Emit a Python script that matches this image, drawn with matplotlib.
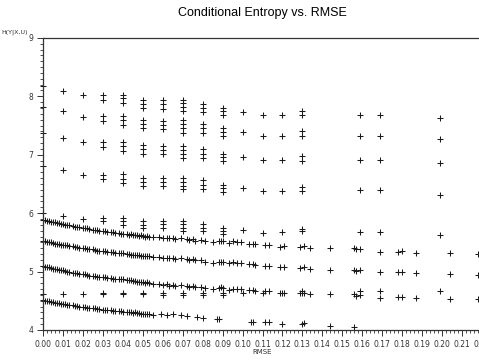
import numpy as np
import matplotlib
matplotlib.use('Agg')
import matplotlib.pyplot as plt
from matplotlib.ticker import MultipleLocator, FormatStrFormatter

# dense curves (4 curves share the same rmse values, the bottom one stops earlier)
dense_x = [0.000, 0.001, 0.002, 0.003, 0.004, 0.005, 0.006, 0.007, 0.008, 0.009,
           0.010, 0.011, 0.012, 0.013, 0.015, 0.016, 0.017, 0.018, 0.020, 0.021,
           0.022, 0.023, 0.025, 0.026, 0.027, 0.028, 0.030, 0.031, 0.032, 0.034,
           0.035, 0.036, 0.038, 0.039, 0.040, 0.042, 0.043, 0.044, 0.045, 0.046,
           0.047, 0.048, 0.049, 0.050, 0.051, 0.052, 0.053, 0.055, 0.058, 0.060,
           0.062, 0.063, 0.065, 0.066, 0.069, 0.072, 0.073, 0.075, 0.076, 0.079,
           0.081, 0.085, 0.088, 0.089, 0.090, 0.093, 0.095, 0.097, 0.099, 0.103,
           0.105, 0.106, 0.111, 0.113, 0.119, 0.121, 0.129, 0.131, 0.134, 0.144,
           0.156, 0.157, 0.159, 0.169, 0.178, 0.180, 0.187, 0.204, 0.218]

curve_a = [5.89, 5.88, 5.87, 5.87, 5.85, 5.85, 5.84, 5.83, 5.83, 5.82,
           5.81, 5.80, 5.80, 5.79, 5.78, 5.77, 5.76, 5.76, 5.75, 5.74,
           5.74, 5.73, 5.72, 5.71, 5.71, 5.70, 5.69, 5.69, 5.68, 5.67,
           5.67, 5.66, 5.66, 5.65, 5.65, 5.64, 5.63, 5.64, 5.62, 5.63,
           5.62, 5.61, 5.62, 5.61, 5.60, 5.61, 5.60, 5.59, 5.60, 5.57,
           5.58, 5.57, 5.58, 5.56, 5.58, 5.55, 5.54, 5.56, 5.53, 5.54,
           5.52, 5.50, 5.52, 5.53, 5.52, 5.49, 5.52, 5.50, 5.51, 5.48,
           5.48, 5.47, 5.45, 5.45, 5.42, 5.43, 5.42, 5.43, 5.41, 5.40,
           5.40, 5.38, 5.39, 5.34, 5.34, 5.35, 5.32, 5.31, 5.30]

curve_b = [5.52, 5.52, 5.51, 5.50, 5.50, 5.49, 5.48, 5.48, 5.47, 5.46,
           5.46, 5.45, 5.45, 5.44, 5.43, 5.42, 5.42, 5.41, 5.40, 5.40,
           5.39, 5.38, 5.38, 5.37, 5.36, 5.36, 5.35, 5.35, 5.34, 5.33,
           5.33, 5.32, 5.32, 5.31, 5.31, 5.30, 5.30, 5.29, 5.29, 5.28,
           5.28, 5.28, 5.27, 5.27, 5.26, 5.27, 5.26, 5.25, 5.25, 5.23,
           5.24, 5.23, 5.24, 5.22, 5.23, 5.21, 5.20, 5.21, 5.19, 5.19,
           5.17, 5.15, 5.17, 5.17, 5.17, 5.14, 5.16, 5.15, 5.15, 5.13,
           5.13, 5.12, 5.10, 5.10, 5.07, 5.08, 5.06, 5.07, 5.05, 5.03,
           5.03, 5.01, 5.02, 4.99, 4.99, 5.00, 4.97, 4.95, 4.94]

curve_c = [5.09, 5.08, 5.08, 5.07, 5.06, 5.05, 5.05, 5.04, 5.03, 5.03,
           5.02, 5.01, 5.00, 5.00, 4.98, 4.98, 4.97, 4.96, 4.95, 4.95,
           4.94, 4.93, 4.93, 4.92, 4.91, 4.91, 4.90, 4.90, 4.89, 4.89,
           4.88, 4.88, 4.87, 4.87, 4.87, 4.86, 4.85, 4.85, 4.84, 4.84,
           4.83, 4.83, 4.82, 4.82, 4.81, 4.82, 4.80, 4.79, 4.79, 4.77,
           4.78, 4.76, 4.77, 4.76, 4.77, 4.75, 4.74, 4.75, 4.73, 4.74,
           4.72, 4.70, 4.72, 4.73, 4.72, 4.69, 4.71, 4.70, 4.71, 4.68,
           4.68, 4.67, 4.66, 4.66, 4.63, 4.64, 4.63, 4.64, 4.62, 4.61,
           4.61, 4.59, 4.60, 4.55, 4.56, 4.57, 4.54, 4.53, 4.53]

curve_d_x = [0.000, 0.001, 0.002, 0.003, 0.004, 0.005, 0.006, 0.007, 0.008, 0.009,
             0.010, 0.011, 0.012, 0.013, 0.015, 0.016, 0.017, 0.018, 0.020, 0.021,
             0.022, 0.023, 0.025, 0.026, 0.027, 0.028, 0.030, 0.031, 0.032, 0.034,
             0.035, 0.036, 0.038, 0.039, 0.040, 0.042, 0.043, 0.044, 0.045, 0.046,
             0.047, 0.048, 0.049, 0.050, 0.051, 0.052, 0.053, 0.055, 0.059, 0.062,
             0.065, 0.069, 0.072, 0.077, 0.080, 0.087, 0.088, 0.104, 0.105, 0.111,
             0.113, 0.120, 0.130, 0.131, 0.144, 0.156]
curve_d = [4.51, 4.50, 4.50, 4.49, 4.48, 4.48, 4.47, 4.46, 4.46, 4.45,
           4.45, 4.44, 4.43, 4.43, 4.42, 4.41, 4.41, 4.40, 4.39, 4.39,
           4.38, 4.38, 4.37, 4.37, 4.36, 4.36, 4.35, 4.35, 4.34, 4.34,
           4.33, 4.33, 4.32, 4.32, 4.31, 4.31, 4.30, 4.30, 4.29, 4.30,
           4.29, 4.29, 4.28, 4.28, 4.27, 4.28, 4.27, 4.26, 4.27, 4.26,
           4.27, 4.25, 4.24, 4.23, 4.21, 4.19, 4.19, 4.14, 4.14, 4.13,
           4.13, 4.11, 4.11, 4.12, 4.07, 4.05]

# stacked points at the coarse rmse values
cols_x = [0.000, 0.010, 0.020, 0.030, 0.040, 0.050, 0.060, 0.070, 0.080,
          0.090, 0.100, 0.110, 0.120, 0.130, 0.159, 0.169, 0.199]
cols_y = [
    [8.18, 7.82, 7.37, 6.81, 6.00, 4.62],
    [8.09, 7.74, 7.29, 6.73, 5.95, 4.62],
    [8.02, 7.65, 7.21, 6.65, 5.90, 4.62],
    [8.03, 7.94, 7.66, 7.58, 7.22, 7.14, 6.66, 6.59, 5.91, 5.86, 4.63, 4.61],
    [8.03, 7.97, 7.88, 7.66, 7.59, 7.51, 7.22, 7.15, 7.07, 6.67, 6.59, 6.52,
     5.91, 5.86, 5.80, 4.63, 4.61],
    [7.94, 7.87, 7.80, 7.59, 7.52, 7.45, 7.17, 7.09, 7.01, 6.60, 6.53, 6.46,
     5.86, 5.80, 5.75, 4.63, 4.61],
    [7.93, 7.86, 7.79, 7.58, 7.51, 7.44, 7.15, 7.08, 7.01, 6.60, 6.53, 6.47,
     5.87, 5.81, 5.74, 4.63, 4.60],
    [7.94, 7.88, 7.81, 7.74, 7.59, 7.52, 7.45, 7.38, 7.15, 7.08, 7.01, 6.94,
     6.61, 6.54, 6.47, 6.41, 5.87, 5.81, 5.75, 5.70, 4.63, 4.60],
    [7.87, 7.80, 7.73, 7.52, 7.45, 7.37, 7.09, 7.02, 6.95, 6.56, 6.48, 6.41,
     5.81, 5.75, 5.70, 4.63, 4.60],
    [7.80, 7.74, 7.68, 7.45, 7.39, 7.32, 7.01, 6.96, 6.89, 6.48, 6.43, 6.36,
     5.75, 5.70, 5.65, 4.63, 4.60],
    [7.73, 7.39, 6.96, 6.43, 5.71, 4.64],
    [7.68, 7.32, 6.91, 6.38, 5.66, 4.64],
    [7.68, 7.32, 6.91, 6.38, 5.67, 4.64],
    [7.74, 7.68, 7.40, 7.32, 6.97, 6.90, 6.44, 6.38, 5.73, 5.69, 4.66, 4.63],
    [7.68, 7.32, 6.91, 6.40, 5.67, 4.66],
    [7.68, 7.32, 6.91, 6.40, 5.67, 4.67],
    [7.62, 7.27, 6.85, 6.31, 5.63, 4.66],
]

fig = plt.figure(figsize=(4.79, 3.62), dpi=100)
ax = fig.add_axes([0.0898, 0.0884, 0.9165, 0.807])

mk = dict(marker='+', linestyle='none', ms=3.8, mew=0.75, color='#1a1a1a', clip_on=False)
for ys in [curve_a, curve_b, curve_c]:
    ax.plot(dense_x, ys, **mk)
ax.plot(curve_d_x, curve_d, **mk)
for x, ys in zip(cols_x, cols_y):
    ax.plot([x] * len(ys), ys, **mk)

ax.set_xlim(0, 0.22)
ax.set_ylim(4, 9)
ax.xaxis.set_major_locator(MultipleLocator(0.01))
ax.xaxis.set_minor_locator(MultipleLocator(0.002))
ax.xaxis.set_major_formatter(FormatStrFormatter('%.2f'))
ax.yaxis.set_major_locator(MultipleLocator(1))
ax.yaxis.set_minor_locator(MultipleLocator(0.1))
ax.tick_params(which='major', length=4, width=0.7, labelsize=5.5, pad=3, colors='#333333')
ax.tick_params(which='minor', length=2.2, width=0.6, colors='#333333')
for s in ax.spines.values():
    s.set_linewidth(0.9)
    s.set_color('#333333')

fig.text(0.548, 0.965, 'Conditional Entropy vs. RMSE', ha='center', va='center',
         fontsize=9, family='Liberation Sans')
fig.text(0.002, 0.912, 'H(Y|X,U)', ha='left', va='center', fontsize=4.6, color='#333333')
fig.text(0.548, 0.027, 'RMSE', ha='center', va='center', fontsize=5, color='#333333')

fig.savefig('out.png', dpi=100)
